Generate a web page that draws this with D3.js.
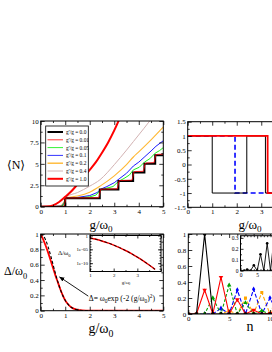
<!DOCTYPE html>
<html>
<head>
<meta charset="utf-8">
<script src="https://cdn.jsdelivr.net/npm/d3@7"></script>
<style>
body { margin: 0; background: #fff; }
svg { display: block; font-family: "Liberation Serif", "DejaVu Serif", serif; }
</style>
</head>
<body>
<svg id="fig" width="272" height="352"></svg>
<script>
// <N> vs g/w0 for several g'/g
const legendLabels = ["g'/g = 0.0", "g'/g = 0.01", "g'/g = 0.05", "g'/g = 0.1", "g'/g = 0.2", "g'/g = 0.4", "g'/g = 1.0"];
const nRatio00 = [[0,0],[1,0],[1,1],[2.41,1],[2.41,2],[3.17,2],[3.17,3],[3.77,3],[3.77,4],[4.23,4],[4.23,5],[4.67,5],[4.67,6],[5,6]];
const nRatio001 = [[0,0],[0.92,0.02],[0.98,0.3],[1.02,0.97],[1.08,1.02],[2.36,1.04],[2.4,1.4],[2.44,2.0],[2.5,2.05],[3.12,2.08],[3.16,2.5],[3.2,3.02],[3.26,3.06],[3.72,3.1],[3.76,3.5],[3.8,4.05],[3.86,4.1],[4.18,4.13],[4.22,4.5],[4.26,5.05],[4.32,5.1],[4.62,5.14],[4.66,5.6],[4.7,6.06],[4.76,6.1],[5,6.14]];
const nRatio005 = [[0,0],[0.85,0.03],[0.95,0.35],[1.02,0.98],[1.5,1.03],[2.0,1.15],[2.25,1.35],[2.42,1.9],[2.6,2.1],[2.95,2.35],[3.17,2.95],[3.4,3.3],[3.62,3.7],[3.78,4.3],[4.02,4.6],[4.23,5.2],[4.45,5.6],[4.67,6.25],[4.85,6.55],[5,6.9]];
const nRatio01 = [[0,0],[0.85,0.04],[0.95,0.4],[1.03,1.0],[1.5,1.08],[2.0,1.3],[2.3,1.65],[2.45,2.05],[2.7,2.35],[3.0,2.8],[3.2,3.25],[3.5,3.9],[3.78,4.75],[4.0,5.2],[4.25,5.85],[4.5,6.5],[4.7,7.05],[5,7.7]];
const nRatio02 = [[0,0],[0.8,0.05],[0.95,0.5],[1.05,1.05],[1.5,1.25],[2.0,1.7],[2.42,2.4],[3.0,3.6],[3.5,4.9],[3.78,5.8],[4.0,6.4],[4.5,7.8],[5,9.3]];
const nRatio04 = [[0,0],[0.8,0.1],[0.95,0.6],[1.05,1.15],[1.5,1.65],[2.0,2.4],[2.42,3.15],[3.0,4.9],[3.5,6.6],[3.78,7.6],[4.2,9.1],[4.5,10.2]];
const nRatio10 = [[0,0],[0.25,0.02],[0.5,0.15],[0.75,0.55],[1.0,1.15],[1.25,1.8],[1.5,2.6],[1.75,3.4],[2.0,4.3],[2.25,5.2],[2.5,6.3],[2.75,7.5],[3.0,8.9],[3.25,10.5]];

// parity-like switching, top right
const parity00 = [[0,1],[1,1],[1,-1],[2.41,-1],[2.41,1],[3.17,1],[3.17,-1],[3.77,-1],[3.77,1],[4.23,1],[4.23,-1],[4.67,-1],[4.67,1],[5,1]];
const parityBlue = [[0,1],[1.93,1],[1.93,-1],[5,-1]];
const parityRed = [[0,1],[3.26,1],[3.26,-1],[5,-1]];

// gap, bottom left
const gapG = [0,0.1,0.2,0.3,0.4,0.5,0.6,0.7,0.8,0.9,1.0,1.1,1.2,1.3,1.4,1.5,1.7,2.0,2.5,3,4,5];
const gapNum = [1,0.93,0.85,0.76,0.66,0.56,0.46,0.37,0.28,0.2,0.135,0.09,0.056,0.034,0.02,0.011,0.003,0.0003,0,0,0,0];
const gapExp = [1,0.98,0.923,0.835,0.726,0.607,0.487,0.375,0.278,0.198,0.135,0.089,0.056,0.034,0.02,0.011,0.003,0.0003,0,0,0,0];
const insetG = [1,1.25,1.5,1.75,2,2.25,2.5,2.75,3,3.25,3.5,3.75];
const insetGap = [1.4e-1,4.4e-2,1.1e-2,2.2e-3,3.4e-4,4.0e-5,3.7e-6,2.7e-7,1.5e-8,6.5e-10,2.2e-11,6e-13];

// photon distributions, bottom right
const nPhoton = [0,1,2,3,4,5,6,7,8,9,10,11,12,13,14,15];
const pBlack = [0,0,1,0,0,0,0,0,0,0,0,0,0,0,0,0];
const pRed = [0,0,0.30,0,0.46,0,0.18,0,0.05,0,0.01,0,0,0,0,0];
const pGreen = [0,0,0,0.2,0,0.36,0,0.14,0,0.04,0,0.01,0,0,0,0];
const pBlue = [0,0,0,0,0.07,0,0.3,0,0.31,0,0.2,0,0.08,0,0.02,0];
const pOrange = [0,0,0,0,0,0.04,0,0.2,0,0.27,0,0.25,0,0.15,0,0.06];
const pInset = [0,0,0.01,0,0.05,0,0.15,0,0.25,0,0.28,0,0.17,0,0.07,0];

const fig = d3.select('#fig');
let clipId = 0;

function tickSet(axisGen, scale, vals, size, pos, fmt, fs) {
    const a = axisGen(scale).tickValues(vals).tickSize(-size).tickPadding(2);
    a.tickFormat(fmt || (() => ''));
    const g = fig.append('g').attr('transform', pos).call(a);
    g.attr('font-family', null).attr('font-size', fs);
    g.select('.domain').remove();
    g.selectAll('line').attr('stroke', '#000').attr('stroke-width', 0.8);
    g.selectAll('text').attr('fill', '#000');
    return g;
}

// grace-like frame: inward ticks on all four sides
function frame(x, y, o) {
    const [x0, x1] = x.range();
    const [y0, y1] = y.range();
    const fs = o.fs || 7;
    const big = o.big || 4, small = o.small || 2;
    tickSet(d3.axisBottom, x, o.xt, big, `translate(0,${y0})`, o.xf || (d => d), fs);
    tickSet(d3.axisBottom, x, o.xm, small, `translate(0,${y0})`, null, fs);
    tickSet(d3.axisTop, x, o.xt, big, `translate(0,${y1})`, null, fs);
    tickSet(d3.axisTop, x, o.xm, small, `translate(0,${y1})`, null, fs);
    tickSet(d3.axisLeft, y, o.yt, big, `translate(${x0},0)`, o.yf || (d => d), fs);
    tickSet(d3.axisLeft, y, o.ym, small, `translate(${x0},0)`, null, fs);
    tickSet(d3.axisRight, y, o.yt, big, `translate(${x1},0)`, null, fs);
    tickSet(d3.axisRight, y, o.ym, small, `translate(${x1},0)`, null, fs);
    fig.append('rect')
        .attr('x', x0).attr('y', y1)
        .attr('width', x1 - x0).attr('height', y0 - y1)
        .attr('fill', 'none').attr('stroke', '#000').attr('stroke-width', 1);
}

function clipFor(x, y) {
    const id = `clip${clipId++}`;
    const [x0, x1] = x.range();
    const [y0, y1] = y.range();
    fig.append('clipPath').attr('id', id).append('rect')
        .attr('x', x0).attr('y', y1).attr('width', x1 - x0).attr('height', y0 - y1);
    return fig.append('g').attr('clip-path', `url(#${id})`);
}

function label(x, y, parts, fs, anchor) {
    const t = fig.append('text').attr('x', x).attr('y', y)
        .attr('font-size', fs).attr('text-anchor', anchor || 'middle');
    let off = 0;
    parts.forEach(([s, k]) => {
        const want = k === 1 ? fs * 0.3 : k === -1 ? -fs * 0.4 : 0;
        t.append('tspan').attr('dy', want - off)
            .attr('font-size', k ? fs * 0.7 : fs).text(s);
        off = want;
    });
    return t;
}

// ---------- top left ----------
const xTL = d3.scaleLinear([0, 5], [40.7, 163.3]);
const yTL = d3.scaleLinear([0, 10], [206.7, 121]);
const lineTL = d3.line().x(d => xTL(d[0])).y(d => yTL(d[1]));
const curveTL = d3.line().x(d => xTL(d[0])).y(d => yTL(d[1])).curve(d3.curveMonotoneX);
const tlStyles = [
    { data: nRatio04, color: '#d2b2b2', w: 1, smooth: true },
    { data: nRatio02, color: '#ffb833', w: 1.1, smooth: true },
    { data: nRatio01, color: '#0000ff', w: 0.9 },
    { data: nRatio005, color: '#00ee00', w: 0.9 },
    { data: nRatio00, color: '#000', w: 2 },
    { data: nRatio001, color: '#ff0000', w: 0.8 },
    { data: nRatio10, color: '#ff0000', w: 2, smooth: true },
];
const gTL = clipFor(xTL, yTL);
tlStyles.forEach(s => {
    gTL.append('path').attr('d', (s.smooth ? curveTL : lineTL)(s.data))
        .attr('fill', 'none').attr('stroke', s.color).attr('stroke-width', s.w);
});
frame(xTL, yTL, {
    xt: [0, 1, 2, 3, 4, 5], xm: d3.range(0.5, 5, 1),
    yt: [0, 2.5, 5, 7.5, 10], ym: [1.25, 3.75, 6.25, 8.75],
});

// legend
const legendOrder = [
    { color: '#000', w: 2 }, { color: '#ff0000', w: 0.8 }, { color: '#00ee00', w: 0.8 },
    { color: '#0000ff', w: 0.8 }, { color: '#ffb833', w: 1.4 }, { color: '#d2b2b2', w: 1 },
    { color: '#ff0000', w: 2 },
];
fig.append('rect').attr('x', 45.7).attr('y', 126).attr('width', 42.6).attr('height', 60)
    .attr('fill', '#fff').attr('stroke', '#000').attr('stroke-width', 0.8);
legendLabels.forEach((txt, i) => {
    const yy = 132 + i * 7.8;
    fig.append('line').attr('x1', 47.5).attr('x2', 63).attr('y1', yy).attr('y2', yy)
        .attr('stroke', legendOrder[i].color).attr('stroke-width', legendOrder[i].w);
    fig.append('text').attr('x', 66).attr('y', yy + 1.9).attr('font-size', 5.4).text(txt);
});

// ---------- top right ----------
const xTR = d3.scaleLinear([0, 5], [187.7, 310.3]);
const yTR = d3.scaleLinear([-1.5, 1.5], [207.3, 121.7]);
const lineTR = d3.line().x(d => xTR(d[0])).y(d => yTR(d[1]));
const gTR = clipFor(xTR, yTR);
gTR.append('path').attr('d', lineTR(parityBlue)).attr('fill', 'none')
    .attr('stroke', '#0000ff').attr('stroke-width', 1.6).attr('stroke-dasharray', '5,3');
gTR.append('path').attr('d', lineTR(parity00)).attr('fill', 'none')
    .attr('stroke', '#000').attr('stroke-width', 1);
gTR.append('path').attr('d', lineTR(parityRed)).attr('fill', 'none')
    .attr('stroke', '#ff0000').attr('stroke-width', 1.8);
frame(xTR, yTR, {
    xt: [0, 1, 2, 3, 4, 5], xm: d3.range(0.5, 5, 1),
    yt: [-1.5, -1, -0.5, 0, 0.5, 1, 1.5], ym: [-1.25, -0.75, -0.25, 0.25, 0.75, 1.25],
});

label(101, 228.5, [['g/ω', 0], ['0', 1]], 13);
label(250, 228.5, [['g/ω', 0], ['0', 1]], 13);
label(16, 169, [['⟨N⟩', 0]], 12);

// ---------- bottom left ----------
const xBL = d3.scaleLinear([0, 5], [40.7, 163.3]);
const yBL = d3.scaleLinear([0, 1], [310.7, 234]);
const gBL = clipFor(xBL, yBL);
const lineBL = d3.line().x((d, i) => xBL(gapG[i])).y(d => yBL(d)).curve(d3.curveMonotoneX);
gBL.append('path').attr('d', lineBL(gapNum)).attr('fill', 'none')
    .attr('stroke', '#ff0000').attr('stroke-width', 1.8);
gBL.append('path').attr('d', lineBL(gapExp)).attr('fill', 'none')
    .attr('stroke', '#000').attr('stroke-width', 1.1).attr('stroke-dasharray', '3,2');
frame(xBL, yBL, {
    xt: [0, 1, 2, 3, 4, 5], xm: d3.range(0.5, 5, 1),
    yt: [0, 0.2, 0.4, 0.6, 0.8, 1], ym: [0.1, 0.3, 0.5, 0.7, 0.9],
});

// arrow + formula
fig.append('defs').append('marker').attr('id', 'arr')
    .attr('viewBox', '0 0 10 10').attr('refX', 9).attr('refY', 5)
    .attr('markerWidth', 6).attr('markerHeight', 6).attr('orient', 'auto')
    .append('path').attr('d', 'M0,1L10,5L0,9Z').attr('fill', '#000');
fig.append('line')
    .attr('x1', xBL(1.94)).attr('y1', yBL(0.19))
    .attr('x2', xBL(0.77)).attr('y2', yBL(0.44))
    .attr('stroke', '#000').attr('stroke-width', 0.9).attr('marker-end', 'url(#arr)');
label(xBL(1.96), yBL(0.125), [['Δ= ω', 0], ['0', 1], ['exp (-2 (g/ω', 0], ['0', 1], [')', 0], ['2', -1], [')', 0]], 7.6, 'start');

// inset (log scale)
const xIn = d3.scaleLinear([1, 4], [90, 161]);
const yIn = d3.scaleLog([1e-13, 1], [271.5, 235.5]);
fig.append('rect').attr('x', 90).attr('y', 235.5).attr('width', 71).attr('height', 36).attr('fill', '#fff');
const gIn = clipFor(xIn, yIn);
const lineIn = d3.line().x((d, i) => xIn(insetG[i])).y(d => yIn(d)).curve(d3.curveMonotoneX);
gIn.append('path').attr('d', lineIn(insetGap)).attr('fill', 'none')
    .attr('stroke', '#ff0000').attr('stroke-width', 1.5);
gIn.append('path').attr('d', lineIn(insetGap)).attr('fill', 'none')
    .attr('stroke', '#000').attr('stroke-width', 0.9).attr('stroke-dasharray', '3,2');
const logFmt = d => d === 1 ? '1' : `1e-${String(-Math.round(Math.log10(d))).padStart(2, '0')}`;
frame(xIn, yIn, {
    xt: [1, 2, 3, 4], xm: [1.5, 2.5, 3.5], fs: 5, big: 3, small: 1.5,
    xf: d => d === 4 ? '' : d,
    yt: [1, 1e-5, 1e-10], ym: d3.range(1, 13).map(k => Math.pow(10, -k)), yf: logFmt,
});
label(126, 284, [['g/ω', 0], ['0', 1]], 4.8);
label(58, 255, [['Δ/ω', 0], ['0', 1]], 6.5, 'start');

label(101, 333, [['g/ω', 0], ['0', 1]], 14);
label(4, 275, [['Δ/ω', 0], ['0', 1]], 12, 'start');

// ---------- bottom right ----------
const xBR = d3.scaleLinear([0, 15], [188.3, 310.8]);
const yBR = d3.scaleLinear([0, 1], [314, 234]);
const gBR = clipFor(xBR, yBR);
const brSeries = [
    { vals: pOrange, color: '#ffa500', dash: '4,2', sym: d3.symbolSquare },
    { vals: pBlue, color: '#0000ff', dash: '4,2', sym: d3.symbolDiamond },
    { vals: pGreen, color: '#00a000', dash: '3,2', sym: d3.symbolTriangle },
    { vals: pRed, color: '#ff0000', dash: null, sym: d3.symbolTriangle, flip: true },
    { vals: pBlack, color: '#000', dash: null, sym: d3.symbolCircle },
];
const lineBR = d3.line().x((d, i) => xBR(nPhoton[i])).y(d => yBR(d));
brSeries.forEach(s => {
    gBR.append('path').attr('d', lineBR(s.vals)).attr('fill', 'none')
        .attr('stroke', s.color).attr('stroke-width', 1.1)
        .attr('stroke-dasharray', s.dash);
    gBR.selectAll(null).data(s.vals).enter().append('path')
        .attr('d', d3.symbol().type(s.sym).size(9))
        .attr('transform', (d, i) => `translate(${xBR(nPhoton[i])},${yBR(d)})${s.flip ? ' rotate(180)' : ''}`)
        .attr('fill', s.color);
});
frame(xBR, yBR, {
    xt: [0, 5, 10, 15], xm: d3.range(1, 15).filter(v => v % 5),
    yt: [0, 0.2, 0.4, 0.6, 0.8, 1], ym: [0.1, 0.3, 0.5, 0.7, 0.9],
});

// inset
const xBI = d3.scaleLinear([0, 15], [240.5, 290.5]);
const yBI = d3.scaleLinear([0, 0.32], [270.7, 235.7]);
fig.append('rect').attr('x', 240.5).attr('y', 235.7).attr('width', 50).attr('height', 35).attr('fill', '#fff');
const gBI = clipFor(xBI, yBI);
gBI.append('path').attr('d', d3.line().x((d, i) => xBI(nPhoton[i])).y(d => yBI(d))(pInset))
    .attr('fill', 'none').attr('stroke', '#000').attr('stroke-width', 0.9);
gBI.selectAll(null).data(pInset).enter().append('circle')
    .attr('cx', (d, i) => xBI(nPhoton[i])).attr('cy', d => yBI(d)).attr('r', 1.3).attr('fill', '#000');
frame(xBI, yBI, {
    xt: [0, 5, 10, 15], xm: d3.range(1, 15).filter(v => v % 5), fs: 5.5, big: 3, small: 1.5,
    yt: [0, 0.1, 0.2, 0.3], ym: [0.05, 0.15, 0.25],
});

label(250, 331, [['n', 0]], 14);
</script>
</body>
</html>
